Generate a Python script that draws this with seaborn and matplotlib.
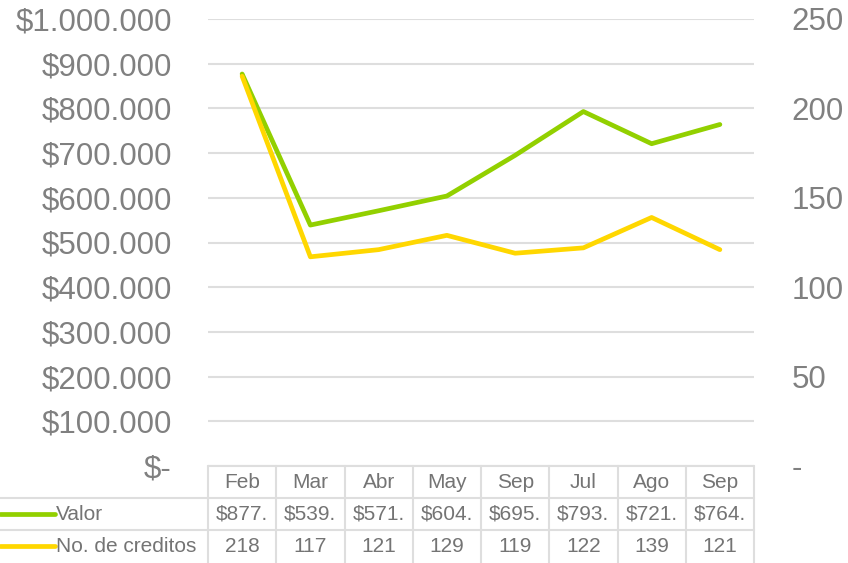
import numpy as np
import pandas as pd
import matplotlib
matplotlib.use("Agg")
import matplotlib.pyplot as plt
import seaborn as sns

categories = ["Feb", "Mar", "Abr", "May", "Sep", "Jul", "Ago", "Sep"]
valor = [877000, 539000, 571000, 604000, 695000, 793000, 721000, 764000]
creditos = [218, 117, 121, 129, 119, 122, 139, 121]
valor_cells = ["$877.", "$539.", "$571.", "$604.", "$695.", "$793.", "$721.", "$764."]
series_names = ["Valor", "No. de creditos"]
left_ticks = [0, 100000, 200000, 300000, 400000, 500000, 600000, 700000, 800000, 900000, 1000000]
left_labels = ["$-", "$100.000", "$200.000", "$300.000", "$400.000", "$500.000",
               "$600.000", "$700.000", "$800.000", "$900.000", "$1.000.000"]
right_ticks = [0, 50, 100, 150, 200, 250]
right_labels = ["-", "50", "100", "150", "200", "250"]

GREEN = "#92D000"
YELLOW = "#FFD700"
TEXT = "#808080"
GRID = "#DEDEDE"

sns.set_theme(style="white")
plt.rcParams["font.family"] = ["Liberation Sans", "DejaVu Sans"]

W, H = 848, 563
fig = plt.figure(figsize=(W / 100, H / 100), dpi=100)
ax_l, ax_r, ax_t, ax_b = 208, 754, 19, 466
ax = fig.add_axes([ax_l / W, (H - ax_b) / H, (ax_r - ax_l) / W, (ax_b - ax_t) / H])
ax2 = ax.twinx()

pos = np.arange(len(categories))
df = pd.DataFrame({"pos": pos, "valor": valor, "creditos": creditos})

sns.lineplot(data=df, x="pos", y="valor", ax=ax, color=GREEN, linewidth=3.4,
             solid_capstyle="round", solid_joinstyle="round", zorder=3)
sns.lineplot(data=df, x="pos", y="creditos", ax=ax2, color=YELLOW, linewidth=3.4,
             solid_capstyle="round", solid_joinstyle="round", zorder=3)

ax.set_xlim(-0.5, len(categories) - 0.5)
ax.set_ylim(0, 1000000)
ax2.set_ylim(0, 250)
ax.set_yticks(left_ticks)
ax.set_yticklabels(left_labels)
ax2.set_yticks(right_ticks)
ax2.set_yticklabels(right_labels)
ax.set_xticks([])
ax.set_xlabel("")
ax.set_ylabel("")
ax2.set_ylabel("")
ax.tick_params(axis="y", length=0, pad=26, labelsize=22.5, labelcolor=TEXT)
ax2.tick_params(axis="y", length=0, pad=27, labelsize=22.5, labelcolor=TEXT)
for a in (ax, ax2):
    for s in a.spines.values():
        s.set_visible(False)
    a.set_facecolor("none")
ax.yaxis.grid(True, color=GRID, linewidth=1.5)
ax.set_axisbelow(True)
ax2.grid(False)

# data table below the plot
tr = ax.get_xaxis_transform()
axh = ax_b - ax_t
row_h = 32 / axh
left_x = -0.5 - ax_l / ((ax_r - ax_l) / len(categories))
n = len(categories)
lw = 1.5
for xv in np.arange(-0.5, n, 1.0):
    ax.plot([xv, xv], [0, -3.2 * row_h], color=GRID, lw=lw, transform=tr, clip_on=False)
ax.plot([-0.5, n - 0.5], [0, 0], color=GRID, lw=lw, transform=tr, clip_on=False)
for k in (1, 2):
    ax.plot([left_x, n - 0.5], [-k * row_h, -k * row_h], color=GRID, lw=lw,
            transform=tr, clip_on=False)

fs = 15
TT = "#747474"
for i, c in enumerate(categories):
    ax.text(i, -0.5 * row_h, c, ha="center", va="center", fontsize=fs, color=TT,
            transform=tr, clip_on=False)
    ax.text(i, -1.5 * row_h, valor_cells[i], ha="center", va="center", fontsize=fs,
            color=TT, transform=tr, clip_on=False)
    ax.text(i, -2.5 * row_h, str(creditos[i]), ha="center", va="center", fontsize=fs,
            color=TT, transform=tr, clip_on=False)

key_len = 55 / ((ax_r - ax_l) / n)
for r, (name, col) in enumerate(zip(series_names, [GREEN, YELLOW])):
    yv = -(r + 1.5) * row_h
    ax.plot([left_x, left_x + key_len], [yv, yv], color=col, lw=3.4,
            solid_capstyle="round", transform=tr, clip_on=False)
    ax.text(left_x + key_len + 0.02, yv, name, ha="left", va="center", fontsize=fs,
            color=TT, transform=tr, clip_on=False)

fig.savefig("out.png", dpi=100)
